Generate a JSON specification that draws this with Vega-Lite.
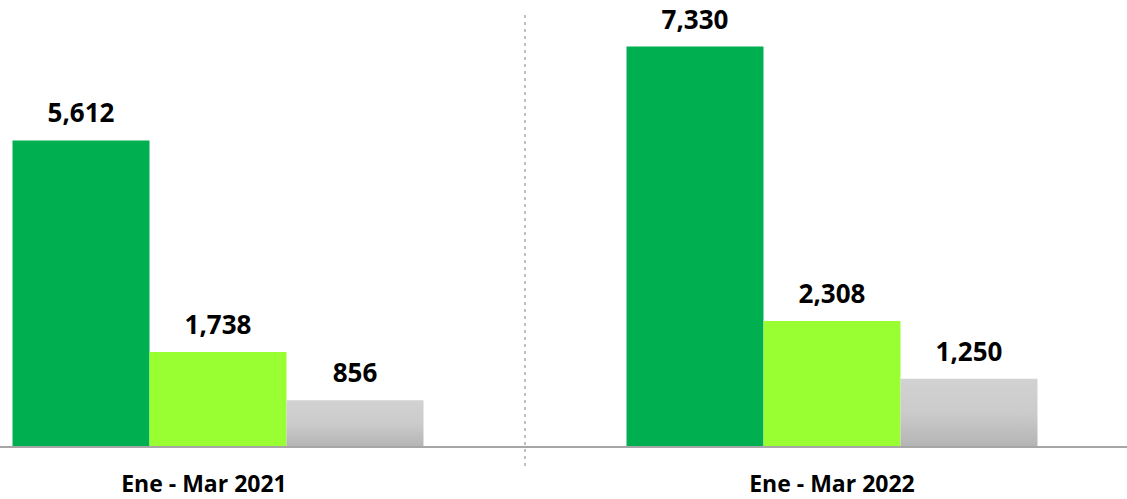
{
  "$schema": "https://vega.github.io/schema/vega-lite/v6.json",
  "width": 1127,
  "height": 437,
  "autosize": {"type": "none"},
  "padding": {"left": 0, "top": 10, "right": 0, "bottom": 52},
  "background": "white",
  "config": {"view": {"stroke": null}},
  "data": {
    "values": [
      {"period": "Ene - Mar 2021", "series": "s1", "value": 5612},
      {"period": "Ene - Mar 2021", "series": "s2", "value": 1738},
      {"period": "Ene - Mar 2021", "series": "s3", "value": 856},
      {"period": "Ene - Mar 2022", "series": "s1", "value": 7330},
      {"period": "Ene - Mar 2022", "series": "s2", "value": 2308},
      {"period": "Ene - Mar 2022", "series": "s3", "value": 1250}
    ]
  },
  "layer": [
    {
      "transform": [{"filter": "datum.series != 's3'"}],
      "mark": {"type": "bar"},
      "encoding": {
        "x": {"field": "period", "type": "nominal", "sort": null,
          "scale": {"range": [-89, 1139], "paddingInner": 0, "paddingOuter": 0},
          "axis": {"title": null, "domain": false, "ticks": false, "labelAngle": 0,
            "labelFont": "Open Sans", "labelFontWeight": "bold", "labelFontSize": 23,
            "labelColor": "#000000", "labelPadding": 26,
            "labelOffset": {"condition": {"test": "datum.value == 'Ene - Mar 2021'", "value": -14}, "value": 0}}},
        "xOffset": {"field": "series", "type": "nominal",
          "scale": {"domain": ["s1", "s2", "s3"], "paddingInner": 0, "paddingOuter": 0.741}},
        "y": {"field": "value", "type": "quantitative", "scale": {"domain": [0, 8000]}, "axis": null},
        "color": {"field": "series", "type": "nominal",
          "scale": {"domain": ["s1", "s2"], "range": ["#00B050", "#99FF33"]}, "legend": null}
      }
    },
    {
      "transform": [{"filter": "datum.series == 's3'"}],
      "mark": {"type": "bar", "color": {"gradient": "linear", "x1": 0, "y1": 0, "x2": 0, "y2": 1,
        "stops": [{"offset": 0, "color": "#D2D2D2"}, {"offset": 0.5, "color": "#CBCBCB"}, {"offset": 1, "color": "#B4B4B4"}]}},
      "encoding": {
        "x": {"field": "period", "type": "nominal", "sort": null},
        "xOffset": {"field": "series", "type": "nominal"},
        "y": {"field": "value", "type": "quantitative"}
      }
    },
    {
      "mark": {"type": "text", "font": "Open Sans", "fontWeight": "bold", "fontSize": 26,
        "baseline": "alphabetic", "dy": -18, "color": "#000000"},
      "encoding": {
        "x": {"field": "period", "type": "nominal", "sort": null},
        "xOffset": {"field": "series", "type": "nominal"},
        "y": {"field": "value", "type": "quantitative"},
        "text": {"field": "value", "type": "quantitative", "format": ","}
      }
    },
    {
      "mark": {"type": "rule", "color": "#A6A6A6", "strokeWidth": 1.5},
      "encoding": {"y": {"datum": 0, "type": "quantitative"}}
    },
    {
      "mark": {"type": "rule", "color": "#BFBFBF", "strokeWidth": 2, "strokeDash": [2, 5], "clip": false},
      "encoding": {
        "x": {"datum": "Ene - Mar 2022", "type": "nominal", "bandPosition": 0},
        "y": {"datum": 7900, "type": "quantitative"},
        "y2": {"datum": -420}
      }
    }
  ]
}
